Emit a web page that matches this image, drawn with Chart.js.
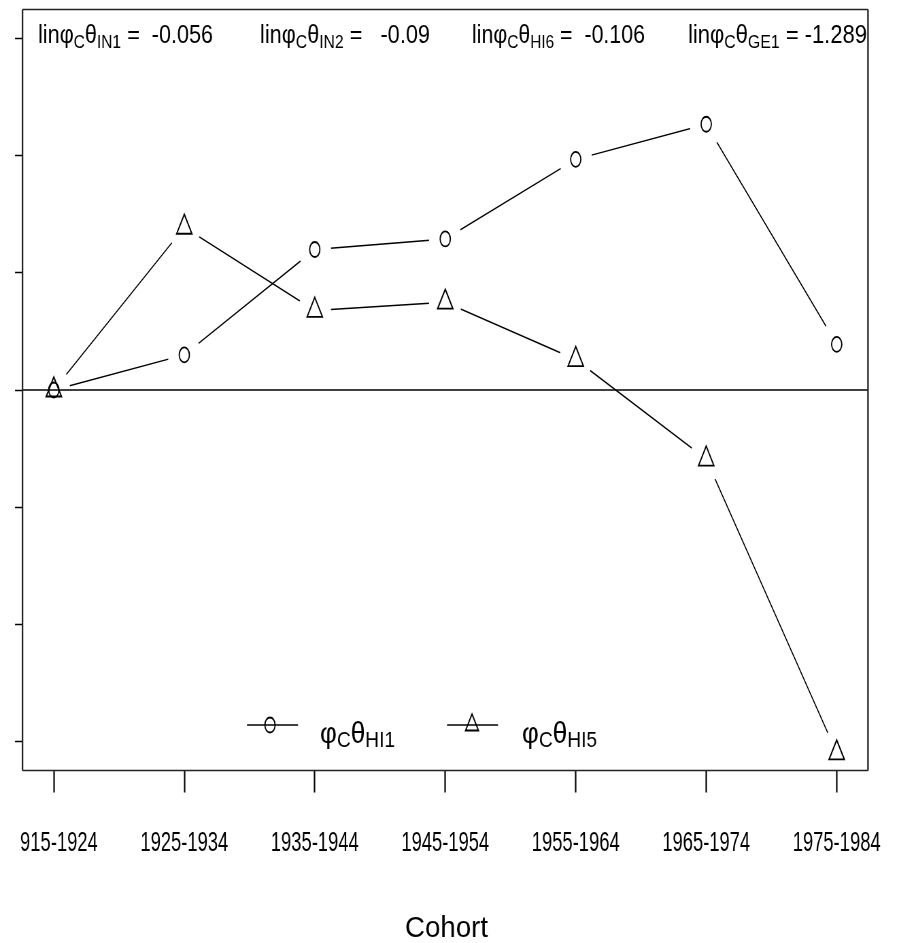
<!DOCTYPE html>
<html>
<head>
<meta charset="utf-8">
<script src="https://cdn.jsdelivr.net/npm/chart.js@4.4.1/dist/chart.umd.min.js"></script>
<style>
  html, body { margin: 0; padding: 0; background: #fff; overflow: hidden; }
  #c { display: block; transform-origin: 0 0; }
</style>
</head>
<body>
<canvas id="c" width="1322" height="943"></canvas>
<script>
// ---------- data ----------
const cohorts = ['1915-1924', '1925-1934', '1935-1944', '1945-1954', '1955-1964', '1965-1974', '1975-1984'];
const hi1 = [0.00, 0.30, 1.20, 1.29, 1.97, 2.27, 0.39];
const hi5 = [0.00, 1.39, 0.68, 0.75, 0.26, -0.59, -3.10];
const yTicks = [-3, -2, -1, 0, 1, 2, 3];
const annotSubs = ['IN1', 'IN2', 'HI6', 'GE1'];
const annotValues = ['-0.056', '-0.09', '-0.106', '-1.289'];
const annotSpaces = ['  ', '   ', '  ', ' '];
const legendSubs = ['HI1', 'HI5'];
const xTitle = 'Cohort';

// ---------- geometry (page is compressed horizontally) ----------
const CW = 1322, CH = 943;
const K = 899 / CW;
const S = v => v / K;           // page x -> canvas x
const FONT = "'Liberation Sans', Arial, sans-serif";
const canvas = document.getElementById('c');
canvas.style.width = CW + 'px';
canvas.style.height = CH + 'px';
canvas.style.transform = 'scaleX(' + K + ')';

const pts = arr => arr.map((v, i) => ({ x: i, y: v }));

function drawRich(ctx, parts, x, baseline, targetW, mainSize, subSize, subDy) {
  let total = 0;
  const widths = parts.map(p => {
    ctx.font = (p.sub ? subSize : mainSize) + 'px ' + FONT;
    const w = ctx.measureText(p.t).width;
    total += w;
    return w;
  });
  const sc = targetW ? targetW / total : 1;
  ctx.save();
  ctx.translate(x, 0);
  ctx.scale(sc, 1);
  ctx.fillStyle = '#000';
  ctx.textBaseline = 'alphabetic';
  ctx.textAlign = 'left';
  let cx = 0;
  parts.forEach((p, i) => {
    ctx.font = (p.sub ? subSize : mainSize) + 'px ' + FONT;
    ctx.fillText(p.t, cx, baseline + (p.sub ? subDy : 0));
    cx += widths[i];
  });
  ctx.restore();
}

const decor = {
  id: 'decor',
  afterDatasetsDraw(chart) {
    const ctx = chart.ctx, a = chart.chartArea;
    const y0 = chart.scales.y.getPixelForValue(0);
    ctx.save();
    ctx.strokeStyle = '#000';
    ctx.lineWidth = 1.6;
    ctx.beginPath();
    ctx.moveTo(a.left, y0);
    ctx.lineTo(a.right, y0);
    ctx.stroke();
    ctx.restore();
  },
  afterDraw(chart) {
    const ctx = chart.ctx, a = chart.chartArea;
    ctx.save();
    // plot box
    ctx.strokeStyle = '#222';
    ctx.lineWidth = 1.6;
    ctx.beginPath();
    ctx.moveTo(a.left, a.top); ctx.lineTo(a.right, a.top);
    ctx.moveTo(a.left, a.bottom); ctx.lineTo(a.right, a.bottom);
    ctx.stroke();
    ctx.lineWidth = 1.6 / K;
    ctx.beginPath();
    ctx.moveTo(a.left, a.top); ctx.lineTo(a.left, a.bottom);
    ctx.moveTo(a.right, a.top); ctx.lineTo(a.right, a.bottom);
    ctx.stroke();

    // top annotations
    const starts = [38, 260, 472, 688], ends = [213, 430, 645, 867];
    annotSubs.forEach((sub, i) => {
      const parts = [
        { t: 'lin' }, { t: 'φ' }, { t: 'C', sub: true }, { t: 'θ' }, { t: sub, sub: true },
        { t: ' =' + annotSpaces[i] + annotValues[i] }
      ];
      drawRich(ctx, parts, S(starts[i]), 43, S(ends[i] - starts[i]), 25, 18, 5);
    });

    // legend
    const ly = 725;
    const lx = [[247, 298, 270, 320, 395], [447, 498, 472, 522, 597]];
    const styles = [{ pointStyle: 'circle', radius: 7.5 }, { pointStyle: 'triangle', radius: 11 }];
    legendSubs.forEach((sub, i) => {
      const [x1, x2, xm, tx1, tx2] = lx[i];
      ctx.strokeStyle = '#000';
      ctx.lineWidth = 1.5;
      ctx.beginPath();
      ctx.moveTo(S(x1), ly); ctx.lineTo(S(x2), ly);
      ctx.stroke();
      ctx.fillStyle = 'rgba(0,0,0,0)';
      ctx.lineWidth = 1.8;
      Chart.helpers.drawPoint(ctx, { pointStyle: styles[i].pointStyle, radius: styles[i].radius, borderWidth: 1.8, rotation: 0 }, S(xm), ly);
      const parts = [{ t: 'φ' }, { t: 'C', sub: true }, { t: 'θ' }, { t: sub, sub: true }];
      drawRich(ctx, parts, S(tx1), 743, S(tx2 - tx1), 30, 22, 4);
    });

    // axis title
    drawRich(ctx, [{ t: xTitle }], S(405), 937, S(83), 30, 20, 0);

    // left edge of the original picture cuts the first tick label
    ctx.fillStyle = '#fff';
    ctx.fillRect(0, 800, 28.5, 80);
    ctx.restore();
  }
};

new Chart(canvas, {
  type: 'line',
  data: {
    datasets: [
      { label: 'φCθHI1 line', data: pts(hi1), borderColor: '#000', borderWidth: 1.5, tension: 0,
        pointRadius: 24, pointBackgroundColor: '#fff', pointBorderColor: '#fff', pointBorderWidth: 0,
        fill: false, clip: 0, order: 1 },
      { label: 'φCθHI5 line', data: pts(hi5), borderColor: '#000', borderWidth: 1.5, tension: 0,
        pointRadius: 24, pointBackgroundColor: '#fff', pointBorderColor: '#fff', pointBorderWidth: 0,
        fill: false, clip: 0, order: 1 },
      { label: 'φCθHI1', data: pts(hi1), showLine: false, pointStyle: 'circle', pointRadius: 7.5,
        pointBorderColor: '#000', pointBorderWidth: 1.8, pointBackgroundColor: 'rgba(0,0,0,0)', clip: false, order: 0 },
      { label: 'φCθHI5', data: pts(hi5), showLine: false, pointStyle: 'triangle', pointRadius: 13,
        pointBorderColor: '#000', pointBorderWidth: 1.8, pointBackgroundColor: 'rgba(0,0,0,0)', clip: false, order: 0 }
    ]
  },
  options: {
    responsive: false,
    devicePixelRatio: 1,
    animation: false,
    events: [],
    layout: { autoPadding: false, padding: { left: 0, right: CW - S(868), top: 9.5, bottom: 0 } },
    plugins: { legend: { display: false }, tooltip: { enabled: false }, title: { display: false } },
    scales: {
      x: {
        type: 'linear', position: 'bottom', min: -0.24, max: 6.24,
        afterBuildTicks: s => { s.ticks = cohorts.map((_, i) => ({ value: i })); },
        afterFit: s => { s.height = CH - 770.5; s.paddingLeft = 0; s.paddingRight = 0; },
        ticks: { callback: v => cohorts[v], color: '#000', font: { family: FONT, size: 27 },
                 padding: 35, maxRotation: 0, minRotation: 0, autoSkip: false },
        grid: { drawOnChartArea: false, drawTicks: true, tickLength: 22, tickColor: '#000', tickWidth: 2.2, color: '#000' },
        border: { display: false }
      },
      y: {
        type: 'linear', position: 'left', min: -3.25, max: 3.25,
        afterBuildTicks: s => { s.ticks = yTicks.map(v => ({ value: v })); },
        afterFit: s => { s.width = S(22.5); s.paddingTop = 0; s.paddingBottom = 0; },
        ticks: { display: false },
        grid: { drawOnChartArea: false, drawTicks: true, tickLength: S(7.5), tickColor: '#000', tickWidth: 1.5, color: '#000' },
        border: { display: false }
      }
    }
  },
  plugins: [decor]
});
</script>
</body>
</html>
